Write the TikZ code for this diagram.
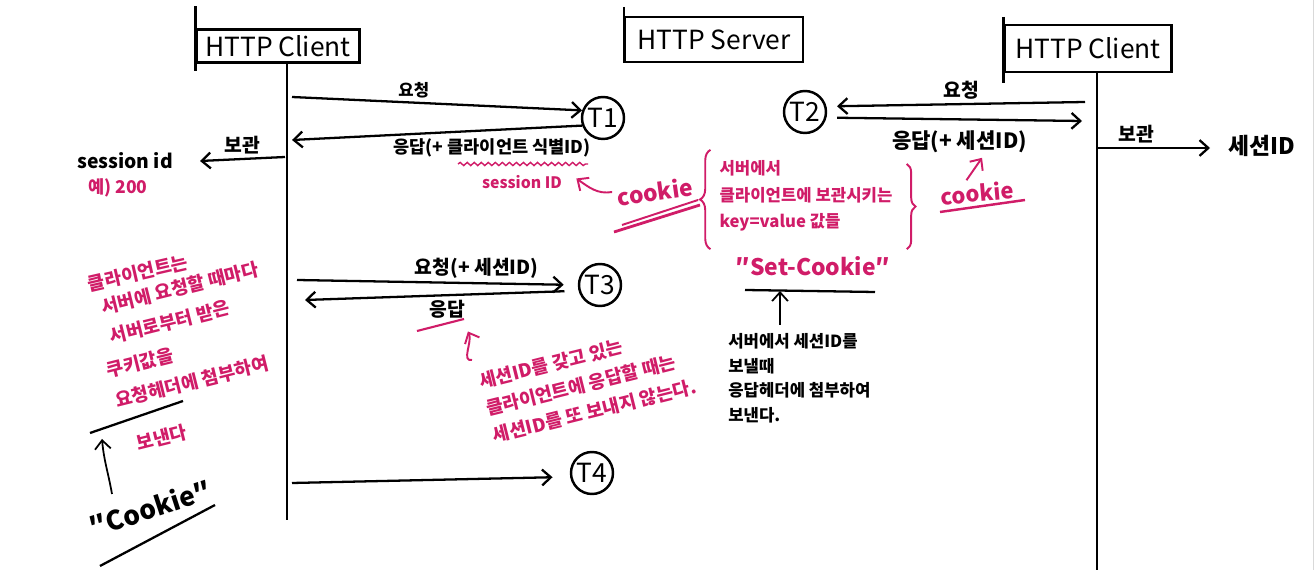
\documentclass[tikz,border=0pt]{standalone}
\usepackage{fontspec}
\setmainfont{Noto Sans CJK KR}
\usepackage{tikz}
\usetikzlibrary{arrows.meta, positioning, calc, decorations.pathmorphing, decorations.pathreplacing}
\definecolor{pinkink}{RGB}{208,28,104}
\tikzset{
  actor/.style  = {rectangle, draw, line width=1.3pt, inner sep=0pt,
                   font=\fontsize{15}{17}\selectfont},
  tick/.style   = {circle, draw, line width=1.4pt, minimum size=0.84cm, inner sep=0pt,
                   font=\fontsize{15}{16}\selectfont},
  lbl/.style    = {font=\bfseries\fontsize{11}{13}\selectfont, inner sep=2pt},
  note/.style   = {font=\bfseries\fontsize{10}{14}\selectfont, align=left, inner sep=0pt},
  pnote/.style  = {note, text=pinkink},
  life/.style   = {line width=1.3pt},
  arrow/.style  = {line width=1.3pt, -{Straight Barb[length=5pt,width=9pt]}},
  parrow/.style = {arrow, draw=pinkink, line width=1.1pt},
}
\newcommand{\tilt}[2]{\rotatebox{#1}{#2}}

\begin{document}
\begin{tikzpicture}[x=0.02cm, y=-0.02cm]

    \useasboundingbox (0,0) rectangle (1316,570);
    \draw[gray!30] (1313,0) -- (1313,570);

    %% Actors
    \node[actor, minimum width=3.26cm, minimum height=0.66cm] (cliA) at ( 278, 46)   {HTTP Client};
    \node[actor, minimum width=3.56cm, minimum height=0.90cm] (srv)  at ( 714, 39.5) {HTTP Server};
    \node[actor, minimum width=3.34cm, minimum height=0.94cm] (cliB) at (1088, 48.5) {HTTP Client};

    \draw[life] ([yshift=0.44cm]cliA.north west) -- ([yshift=-0.14cm]cliA.south west);
    \draw[life] ([yshift=0.18cm]srv.north west)  -- (srv.south west);
    \draw[life] ([yshift=0.14cm]cliB.north west) -- ([yshift=-0.20cm]cliB.south west);

    %% Lifelines
    \coordinate (endA) at ( 287, 520);
    \coordinate (endB) at (1097, 570);
    \draw[life] (cliA.south -| endA) -- (endA);
    \draw[life] (cliB.south -| endB) -- (endB);

    %% Time marks
    \node[tick] (T1) at (603, 118) {T1};
    \node[tick] (T2) at (805, 112) {T2};
    \node[tick] (T3) at (600, 285) {T3};
    \node[tick] (T4) at (592, 473) {T4};

    %% T1: first request
    \coordinate (q1) at (292,  97);
    \coordinate (p1) at (292, 140);
    \draw[arrow] (q1) -- node[lbl, above, pos=0.42, font=\bfseries\fontsize{9.5}{11}\selectfont] (q1lbl) {요청} (T1.160);
    \draw[arrow] (T1.200) -- node[lbl, below=2pt, pos=0.31, font=\bfseries\fontsize{10}{12}\selectfont] (p1lbl)
         {응답(+ 클라이언트 식별ID)} (p1);
    \draw[pinkink, line width=0.8pt, decorate, decoration={snake, amplitude=0.9pt, segment length=4pt}]
         (458,164) -- (588,164);
    \node[pnote, font=\bfseries\fontsize{9}{11}\selectfont] (sid) at (522,182) {session ID};

    \node[pnote, font=\bfseries\fontsize{13}{15}\selectfont] (ckA) at (655,192) {\tilt{8}{cookie}};
    \draw[parrow] ([xshift=-2pt]ckA.west) to[out=190, in=-35] ([xshift=8pt,yshift=2pt]sid.east);
    \draw[pinkink, line width=1.6pt] (614,232) -- (700,205);
    \draw[pinkink, line width=1.1pt] (622,225) -- (698,200);

    %% stored on the left client
    \coordinate (s1)    at (285, 157);
    \coordinate (s1end) at (200, 161);
    \draw[arrow] (s1) -- node[lbl, above] (s1lbl) {보관} (s1end);
    \node[note, font=\bfseries\fontsize{11}{13}\selectfont] (sidL) at (125, 161) {session id};
    \node[pnote, font=\bfseries\fontsize{10}{12}\selectfont] (ex) at (118, 188) {예) 200};

    %% T2: request from the other client
    \coordinate (q2) at (1085, 102);
    \coordinate (p2) at (1082, 121);
    \draw[arrow] (q2) -- node[lbl, above] (q2lbl) {요청} ([xshift=6pt]T2.15);
    \draw[arrow] ([xshift=6pt]T2.-15) -- node[lbl, below=4pt, font=\bfseries\fontsize{12}{14}\selectfont] (p2lbl)
         {응답(+ 세션ID)} (p2);

    \coordinate (s2)    at (1097, 148);
    \coordinate (s2end) at (1210, 148);
    \draw[arrow] (s2) -- node[lbl, above, pos=0.35] (s2lbl) {보관} (s2end);
    \node[note, font=\bfseries\fontsize{13}{15}\selectfont] (sidR) at (1262, 146) {세션ID};

    %% cookie definition
    \node[pnote, font=\bfseries\fontsize{9.5}{15}\selectfont] (kv) at (806, 196)
         {서버에서\\클라이언트에 보관시키는\\key=value 값들};
    \draw[pinkink, line width=1.1pt, decorate, decoration={brace, amplitude=6pt}]
         ([xshift=-5pt,yshift=-10pt]kv.south west) -- ([xshift=-5pt,yshift=6pt]kv.north west);
    \draw[pinkink, line width=1.1pt, decorate, decoration={brace, amplitude=5pt}]
         ([xshift=8pt,yshift=-2pt]kv.north east) -- ([xshift=8pt,yshift=-10pt]kv.south east);

    \node[pnote, font=\bfseries\fontsize{12.5}{14}\selectfont] (ckB) at (977, 193) {\tilt{5}{cookie}};
    \draw[pinkink, line width=1.4pt] (940, 212) -- (1025, 200);
    \draw[parrow] ([xshift=-6pt]ckB.north) -- ([xshift=0.45cm]p2lbl.south);

    %% Set-Cookie header
    \node[pnote, font=\bfseries\fontsize{13}{15}\selectfont] (setck) at (813, 266) {″Set-Cookie″};
    \coordinate (ulset) at (780, 291);
    \draw[life] (745, 290) -- (875, 292);
    \node[note, anchor=north west, font=\bfseries\fontsize{9.5}{14}\selectfont] (srvnote) at (728, 333)
         {서버에서 세션ID를\\보낼때\\응답헤더에 첨부하여\\보낸다.};
    \draw[arrow, line width=1pt] ($(srvnote.north -| ulset)+(0,-8)$) -- (ulset);

    %% T3: request with session id
    \coordinate (q3) at (297, 280);
    \coordinate (p3) at (305, 300);
    \draw[arrow, shorten >=8pt] (q3) -- node[lbl, above, pos=0.64] (q3lbl) {요청(+ 세션ID)} (T3.180);
    \draw[arrow, shorten <=8pt] (T3.195) -- node[lbl, below, pos=0.48] (p3lbl) {응답} (p3);
    \draw[pinkink, line width=1.2pt] (417, 331) -- (464, 319);

    \node[pnote, font=\bfseries\fontsize{10.5}{16}\selectfont] (t3note) at (588, 385)
         {\tilt{14}{\begin{tabular}{@{}l@{}}세션ID를 갖고 있는\\클라이언트에 응답할 때는\\세션ID를 또 보내지 않는다.\end{tabular}}};
    \coordinate (t3tail) at (472, 360);
    \draw[parrow] (t3tail) to[out=190, in=-65] ([xshift=-1pt,yshift=-5pt]p3lbl.south east);

    %% T4
    \coordinate (q4) at (292, 483);
    \draw[arrow, shorten >=10pt] (q4) -- (T4.190);

    %% client side note
    \node[pnote, font=\bfseries\fontsize{10.5}{13}\selectfont] (lp1) at (138, 273) {\tilt{13}{클라이언트는}};
    \node[pnote, font=\bfseries\fontsize{10.5}{13}\selectfont] (lp2) at (180, 288) {\tilt{14}{서버에 요청할 때마다}};
    \node[pnote, font=\bfseries\fontsize{10.5}{13}\selectfont] (lp3) at (170, 322) {\tilt{14}{서버로부터 받은}};
    \node[pnote, font=\bfseries\fontsize{10.5}{13}\selectfont] (lp4) at (140, 363) {\tilt{14}{쿠키값을}};
    \node[pnote, font=\bfseries\fontsize{10.5}{13}\selectfont] (lp5) at (192, 382) {\tilt{14}{요청헤더에 첨부하여}};
    \node[pnote, font=\bfseries\fontsize{10.5}{13}\selectfont] (lp6) at (162, 438) {\tilt{14}{보낸다}};

    \draw[life] (90, 433) -- (183, 401);
    \node[note, font=\bfseries\fontsize{15}{17}\selectfont] (lck) at (150, 508) {\tilt{18}{″Cookie″}};
    \coordinate (ckTail) at (112, 494);
    \coordinate (ckTip)  at (102, 439);
    \draw[arrow, line width=1pt] (ckTail) to[out=100, in=-85] (ckTip);
    \draw[life] (100, 566) -- (215, 505);

\end{tikzpicture}
\end{document}
